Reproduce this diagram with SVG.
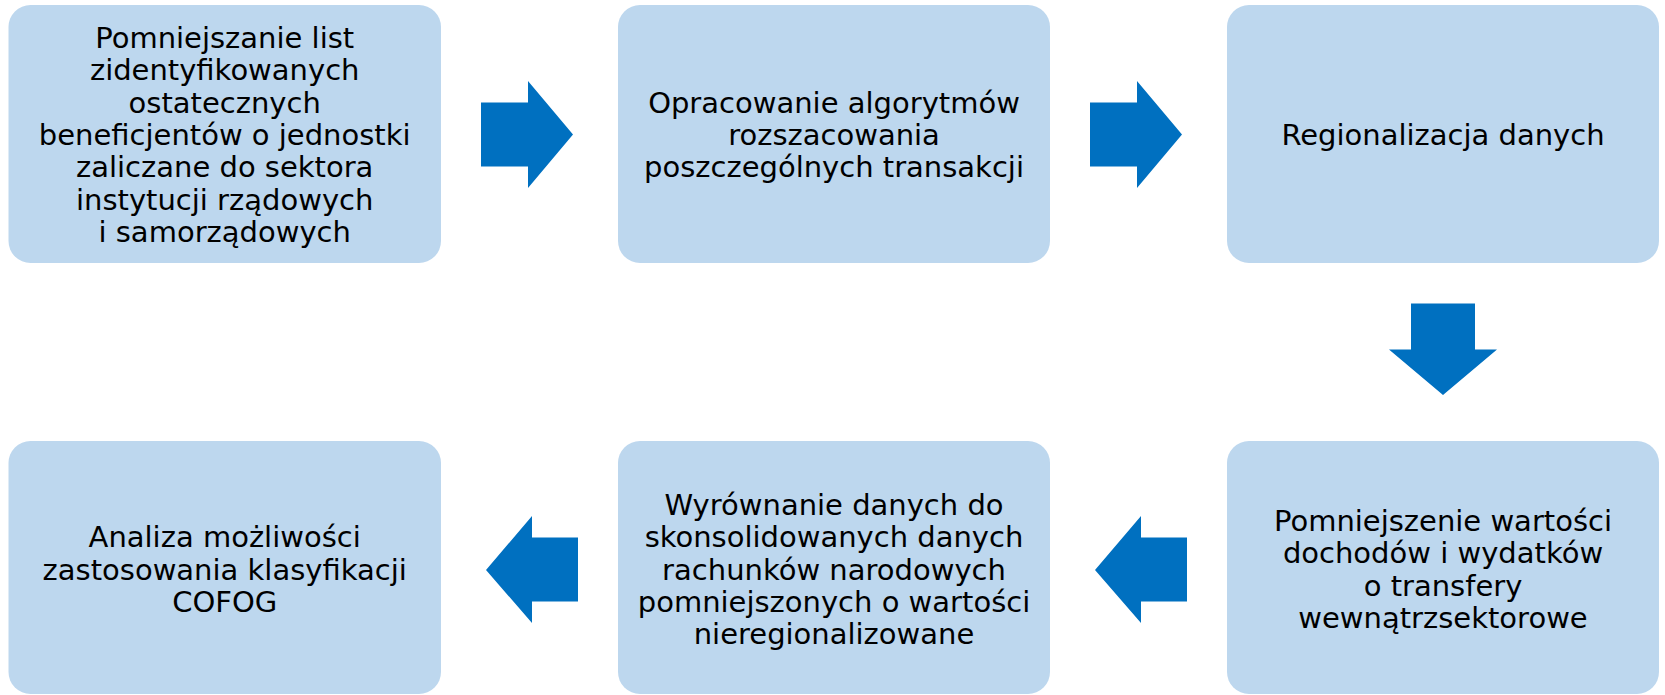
<svg xmlns="http://www.w3.org/2000/svg" width="1665" height="695" viewBox="0 0 1665 695">
<style>
.box{fill:#BDD7EE;}
.arr{fill:#0070C0;}
.t{font-family:"DejaVu Sans","Verdana",sans-serif;font-size:29px;fill:#000;text-anchor:middle;}
</style>
<rect width="1665" height="695" fill="#fff"/>
<g id="n1"><rect class="box" x="8.5" y="5" width="432.5" height="258" rx="22"/>
<text class="t"><tspan x="224.7" y="47.7">Pomniejszanie list</tspan><tspan x="224.7" y="80.1">zidentyfikowanych</tspan><tspan x="224.7" y="112.5">ostatecznych</tspan><tspan x="224.7" y="144.9">beneficjentów o jednostki</tspan><tspan x="224.7" y="177.3">zaliczane do sektora</tspan><tspan x="224.7" y="209.7">instytucji rządowych</tspan><tspan x="224.7" y="242.1">i samorządowych</tspan></text></g>
<g id="n2"><rect class="box" x="618" y="5" width="432" height="258" rx="22"/>
<text class="t"><tspan x="834" y="112.5">Opracowanie algorytmów</tspan><tspan x="834" y="144.9">rozszacowania</tspan><tspan x="834" y="177.3">poszczególnych transakcji</tspan></text></g>
<g id="n3"><rect class="box" x="1227" y="5" width="432" height="258" rx="22"/>
<text class="t"><tspan x="1443" y="144.9">Regionalizacja danych</tspan></text></g>
<g id="n4"><rect class="box" x="1227" y="441" width="432" height="253" rx="22"/>
<text class="t"><tspan x="1443" y="531">Pomniejszenie wartości</tspan><tspan x="1443" y="563.4">dochodów i wydatków</tspan><tspan x="1443" y="595.8">o transfery</tspan><tspan x="1443" y="628.2">wewnątrzsektorowe</tspan></text></g>
<g id="n5"><rect class="box" x="618" y="441" width="432" height="253" rx="22"/>
<text class="t"><tspan x="834" y="514.8">Wyrównanie danych do</tspan><tspan x="834" y="547.2">skonsolidowanych danych</tspan><tspan x="834" y="579.6">rachunków narodowych</tspan><tspan x="834" y="612">pomniejszonych o wartości</tspan><tspan x="834" y="644.4">nieregionalizowane</tspan></text></g>
<g id="n6"><rect class="box" x="8.5" y="441" width="432.5" height="253" rx="22"/>
<text class="t"><tspan x="224.7" y="547.2">Analiza możliwości</tspan><tspan x="224.7" y="579.6">zastosowania klasyfikacji</tspan><tspan x="224.7" y="612">COFOG</tspan></text></g>
<g id="connectors">
<polygon class="arr" points="481,102.5 528,102.5 528,81 573,134.5 528,188 528,166.5 481,166.5"/>
<polygon class="arr" points="1090,102.5 1137,102.5 1137,81 1182,134.5 1137,188 1137,166.5 1090,166.5"/>
<polygon class="arr" points="1411,303.5 1475,303.5 1475,349.5 1497,349.5 1443,395 1389,349.5 1411,349.5"/>
<polygon class="arr" points="1187,537.5 1141,537.5 1141,516 1095,570 1141,623 1141,601.5 1187,601.5"/>
<polygon class="arr" points="578,537.5 532,537.5 532,516 486,570 532,623 532,601.5 578,601.5"/>
</g>
</svg>
